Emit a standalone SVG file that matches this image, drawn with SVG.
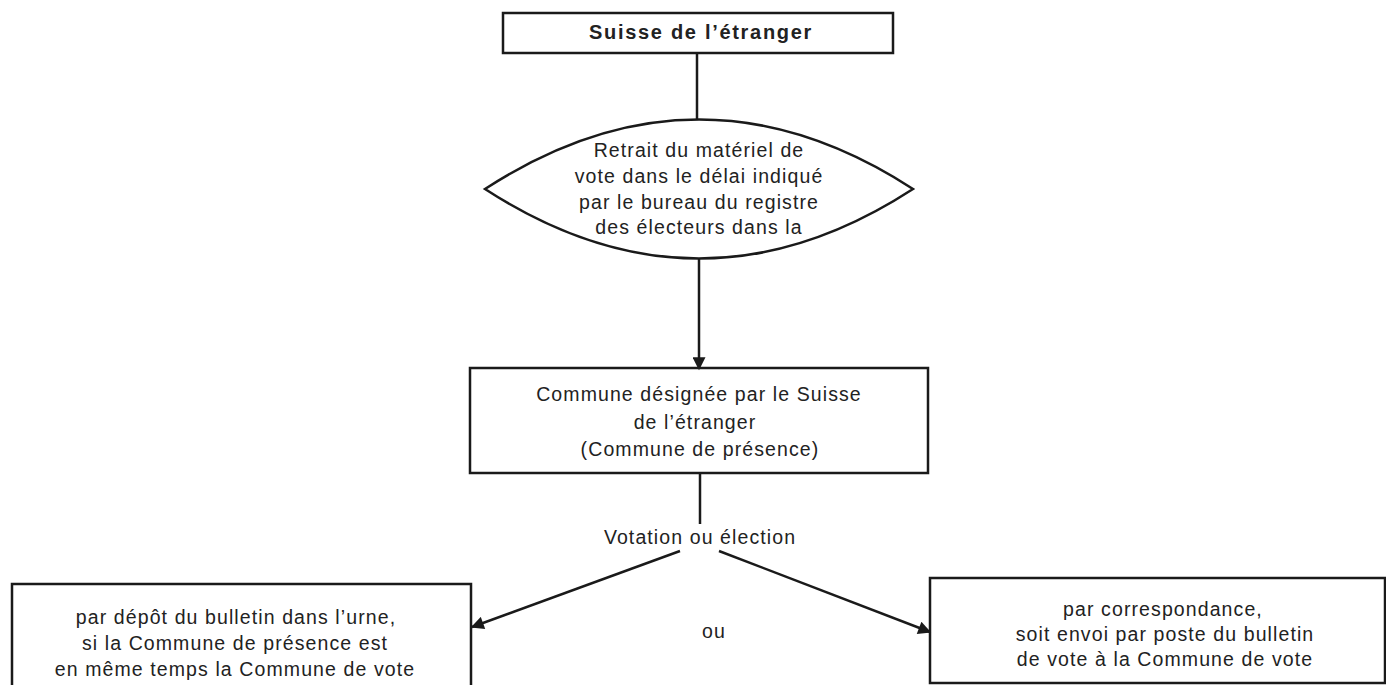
<svg xmlns="http://www.w3.org/2000/svg" width="1386" height="685" viewBox="0 0 1386 685">
<style>
.box{fill:none;stroke:#1a1a1a;stroke-width:2.5}
.t{font-family:"Liberation Sans",Arial,sans-serif;font-size:19.5px;letter-spacing:1.1px;fill:#222;text-anchor:middle}
.b{font-weight:bold;font-size:20px;letter-spacing:1.7px}
.c{fill:none;stroke:#1a1a1a;stroke-width:2.5}
</style>
<defs>
<marker id="ah" viewBox="0 0 10 10" refX="9" refY="5" markerWidth="16" markerHeight="13" markerUnits="userSpaceOnUse" orient="auto">
<path d="M0,0 L10,5 L0,10 z" fill="#1a1a1a"/>
</marker>
</defs>
<rect width="1386" height="685" fill="#fff"/>
<g id="connectors">
<line class="c" x1="697" y1="53" x2="697" y2="120"/>
<line class="c" x1="699" y1="258" x2="699" y2="369" marker-end="url(#ah)"/>
<line class="c" x1="700" y1="473" x2="700" y2="524"/>
<line class="c" x1="680" y1="551" x2="472" y2="627" marker-end="url(#ah)"/>
<line class="c" x1="719" y1="551" x2="930" y2="632" marker-end="url(#ah)"/>
</g>
<g id="n1">
<rect class="box" x="503" y="13" width="390" height="40"/>
<text class="t b" x="701" y="39">Suisse de l’étranger</text>
</g>
<g id="n2">
<path class="box" d="M485,189 Q699,50 913,189 Q699,328 485,189 Z"/>
<text class="t" x="699" y="157">Retrait du matériel de</text>
<text class="t" x="699" y="183">vote dans le délai indiqué</text>
<text class="t" x="699" y="209">par le bureau du registre</text>
<text class="t" x="699" y="234">des électeurs dans la</text>
</g>
<g id="n3">
<rect class="box" x="470" y="368" width="458" height="105"/>
<text class="t" x="699" y="401">Commune désignée par le Suisse</text>
<text class="t" x="695" y="429">de l’étranger</text>
<text class="t" x="700" y="456">(Commune de présence)</text>
</g>
<g id="label">
<text class="t" x="700" y="544">Votation ou élection</text>
<text class="t" x="714" y="638">ou</text>
</g>
<g id="n4">
<rect class="box" x="12" y="584" width="459" height="110"/>
<text class="t" x="236" y="624">par dépôt du bulletin dans l’urne,</text>
<text class="t" x="235" y="650">si la Commune de présence est</text>
<text class="t" x="235" y="676">en même temps la Commune de vote</text>
</g>
<g id="n5">
<rect class="box" x="930" y="578" width="455" height="105"/>
<text class="t" x="1163" y="616">par correspondance,</text>
<text class="t" x="1165" y="641">soit envoi par poste du bulletin</text>
<text class="t" x="1165" y="666">de vote à la Commune de vote</text>
</g>
</svg>
